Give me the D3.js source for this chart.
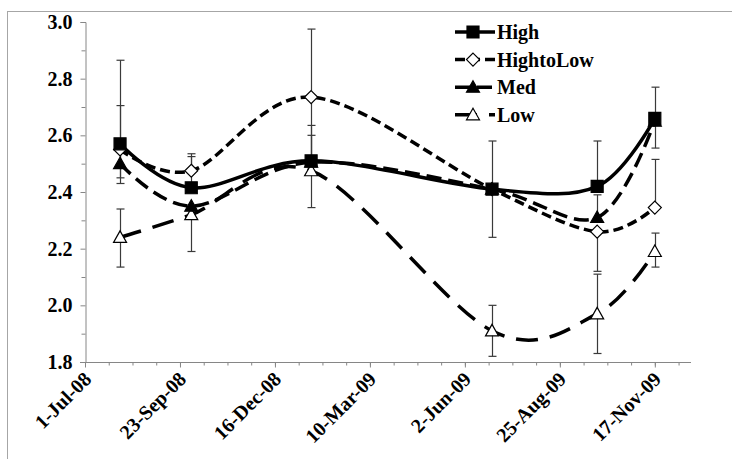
<!DOCTYPE html>
<html>
<head>
<meta charset="utf-8">
<script src="https://cdn.jsdelivr.net/npm/d3@7"></script>
<style>
  html, body { margin: 0; padding: 0; background: #fff; }
  svg { display: block; }
</style>
</head>
<body>
<svg id="chart" width="732" height="459"></svg>
<script>
// Sampling dates and mean scores per group
const sampleDates = ["2008-08-01", "2008-10-03", "2009-01-17", "2009-06-26", "2009-09-27", "2009-11-17"];
const seriesNames = ["High", "HightoLow", "Med", "Low"];
const highValues      = [2.57, 2.415, 2.51, 2.41, 2.42, 2.66];
const hightoLowValues = [2.55, 2.475, 2.735, 2.41, 2.26, 2.345];
const medValues       = [2.50, 2.35, 2.505, 2.41, 2.31, 2.65];
const lowValues       = [2.24, 2.32, 2.475, 1.91, 1.97, 2.19];

// Error amounts (plus, minus); null = no bar in that direction
const highPlus       = [0.295, 0.11, 0.125, 0.17, 0.16, 0.11];
const highMinus      = [0.14, null, null, 0.17, null, 0.105];
const hightoLowPlus  = [null, 0.06, 0.24, null, null, 0.17];
const hightoLowMinus = [null, null, 0.24, null, 0.14, null];
const medPlus        = [0.205, null, 0.095, null, 0.08, null];
const medMinus       = [0.05, null, null, null, null, null];
const lowPlus        = [0.10, null, null, 0.09, 0.14, 0.065];
const lowMinus       = [0.105, 0.13, 0.13, 0.09, 0.14, 0.055];

// Axis settings
const yTickValues = [1.8, 2.0, 2.2, 2.4, 2.6, 2.8, 3.0];
const xTickLabels = ["1-Jul-08", "23-Sep-08", "16-Dec-08", "10-Mar-09", "2-Jun-09", "25-Aug-09", "17-Nov-09"];
const axisEndDate = "2009-12-19";

const FONT = "'Liberation Serif', 'Times New Roman', Times, 'DejaVu Serif', serif";
const FONT_SIZE = "20px";
const parse = d3.timeParse("%Y-%m-%d");
const parseLabel = d3.timeParse("%d-%b-%y");
const dates = sampleDates.map(parse);
const majorDates = xTickLabels.map(parseLabel);
const axisStart = majorDates[0];
const axisEnd = parse(axisEndDate);
const minorDates = d3.range(0, 30).map(i => d3.timeDay.offset(axisStart, i * 21)).filter(d => d <= axisEnd);

const svg = d3.select("#chart");
const plot = { left: 85, right: 691, top: 22, bottom: 362 };

const x = d3.scaleTime().domain([axisStart, axisEnd]).range([plot.left, plot.right]);
const y = d3.scaleLinear().domain([1.8, 3.0]).range([plot.bottom, plot.top]);

const styleText = sel => sel
  .attr("font-family", FONT).style("font-family", FONT)
  .style("font-weight", "bold").style("font-size", FONT_SIZE).attr("fill", "#000");

// Outer frame
svg.append("rect").attr("x", 7.5).attr("y", 11.5).attr("width", 800).attr("height", 600)
  .attr("fill", "none").attr("stroke", "#a6a6a6").attr("stroke-width", 1);

const axisColor = "#868686";

// Y axis
const yAxis = svg.append("g").attr("transform", `translate(${plot.left + 0.5},0)`)
  .call(d3.axisLeft(y).tickValues(yTickValues).tickFormat(d3.format(".1f")).tickSize(5).tickPadding(8));
yAxis.select(".domain").attr("stroke", axisColor);
yAxis.selectAll(".tick line").attr("stroke", axisColor);
yAxis.selectAll("text").call(styleText);
svg.append("g").attr("transform", `translate(${plot.left + 0.5},0)`)
  .call(d3.axisLeft(y).tickValues(d3.range(1.9, 3.0, 0.2)).tickFormat("").tickSize(4))
  .call(g => g.select(".domain").remove())
  .call(g => g.selectAll("line").attr("stroke", axisColor));

// X axis
const xAxis = svg.append("g").attr("transform", `translate(0,${plot.bottom + 0.5})`)
  .call(d3.axisBottom(x).tickValues(majorDates).tickFormat((d, i) => xTickLabels[i]).tickSize(5).tickSizeOuter(0));
xAxis.select(".domain").attr("stroke", axisColor).attr("d", `M${plot.left - 5},0H${plot.right}`);
xAxis.selectAll(".tick line").attr("stroke", axisColor);
xAxis.selectAll("text").call(styleText)
  .attr("text-anchor", "end")
  .attr("x", 0).attr("y", 0).attr("dx", 0).attr("dy", "0.35em")
  .attr("transform", "translate(2,13) rotate(-45)");
svg.append("g").attr("transform", `translate(0,${plot.bottom + 0.5})`)
  .call(d3.axisBottom(x).tickValues(minorDates).tickFormat("").tickSize(3))
  .call(g => g.select(".domain").remove())
  .call(g => g.selectAll("line").attr("stroke", axisColor));

// Series definitions
const series = [
  { name: seriesNames[0], values: highValues, plus: highPlus, minus: highMinus, dash: null, marker: "square", fill: "#000" },
  { name: seriesNames[1], values: hightoLowValues, plus: hightoLowPlus, minus: hightoLowMinus, dash: "10,5", marker: "diamond", fill: "#fff" },
  { name: seriesNames[2], values: medValues, plus: medPlus, minus: medMinus, dash: "15,7", marker: "triangle", fill: "#000" },
  { name: seriesNames[3], values: lowValues, plus: lowPlus, minus: lowMinus, dash: "22,12", marker: "triangle", fill: "#fff" }
];

// Error bars
const eb = svg.append("g").attr("stroke", "#3a3a3a").attr("stroke-width", 1.2);
series.forEach(s => {
  dates.forEach((d, i) => {
    const cx = Math.round(x(d)) + 0.5;
    const v = s.values[i];
    [[s.plus[i], 1], [s.minus[i], -1]].forEach(([e, sign]) => {
      if (e == null) return;
      const yEnd = y(v + sign * e);
      eb.append("line").attr("x1", cx).attr("x2", cx).attr("y1", y(v)).attr("y2", yEnd);
      eb.append("line").attr("x1", cx - 4).attr("x2", cx + 4).attr("y1", yEnd).attr("y2", yEnd);
    });
  });
});

// Smoothed lines
const line = d3.line().x((d, i) => x(dates[i])).y(d => y(d)).curve(d3.curveCardinal.tension(0));
const symbolPath = (type) => {
  if (type === "square") return "M-6,-6H6V6H-6Z";
  if (type === "diamond") return "M0,-6.5L6.5,0L0,6.5L-6.5,0Z";
  return "M0,-6.5L6.5,5L-6.5,5Z";
};

series.slice().reverse().forEach(s => {
  svg.append("path").datum(s.values)
    .attr("fill", "none").attr("stroke", "#000").attr("stroke-width", 3.5)
    .attr("stroke-dasharray", s.dash)
    .attr("d", line);
});
series.slice().reverse().forEach(s => {
  svg.append("g").selectAll("path").data(s.values).join("path")
    .attr("transform", (d, i) => `translate(${x(dates[i])},${y(d)})`)
    .attr("d", symbolPath(s.marker))
    .attr("fill", s.fill).attr("stroke", "#000").attr("stroke-width", 1.2);
});

// Legend
const legend = svg.append("g");
series.forEach((s, i) => {
  const ly = 32 + i * 27.6;
  const g = legend.append("g").attr("transform", `translate(455,${ly})`);
  g.append("line").attr("x1", 0).attr("x2", 40).attr("y1", 0).attr("y2", 0)
    .attr("stroke", "#000").attr("stroke-width", 3.5).attr("stroke-dasharray", s.dash);
  g.append("path").attr("transform", "translate(18,0)").attr("d", symbolPath(s.marker))
    .attr("fill", s.fill).attr("stroke", "#000").attr("stroke-width", 1.2);
  g.append("text").attr("x", 42).attr("y", 0).attr("dy", "0.35em").call(styleText).text(s.name);
});
</script>
</body>
</html>
